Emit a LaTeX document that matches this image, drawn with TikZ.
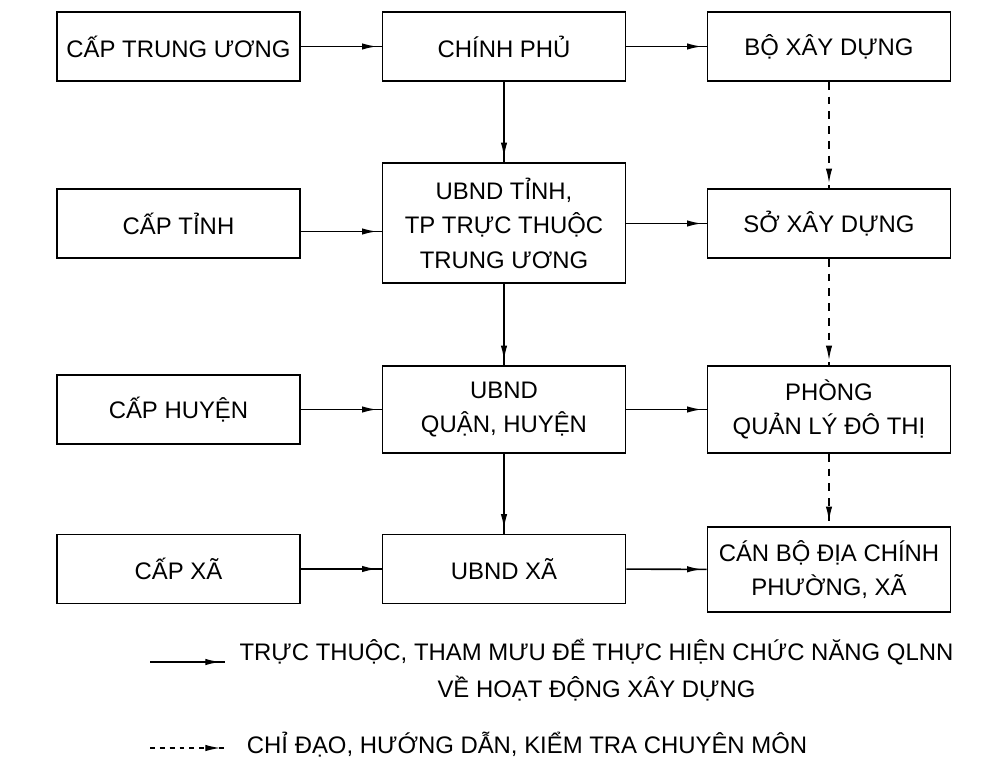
\documentclass[tikz,border=0pt]{standalone}
\usepackage{fontspec}
\setmainfont{Liberation Sans}
\usetikzlibrary{positioning, arrows.meta, decorations.markings}

\tikzset{
	unit/.style={draw, line width=1.1pt, rectangle, minimum width=6.075cm, minimum height=1.725cm, align=center, inner sep=2pt, font=\fontsize{17}{24.5}\selectfont},
	link/.style={line width=1.1pt, postaction={decorate}, decoration={markings, mark=at position -3.5pt with {\arrow{Latex[length=10.5pt, width=4.6pt]}}}},
	guide/.style={link, dash pattern=on 5.5pt off 5pt},
}

\begin{document}
\begin{tikzpicture}[x=0.025cm, y=-0.025cm]
	\useasboundingbox (0,0) rectangle (993,766);
	\node (cTW) [unit] at (178.5,46.5) {CẤP TRUNG ƯƠNG};
	\node (chinhPhu) [unit] at (504,46.5) {CHÍNH PHỦ};
	\node (boXD) [unit] at (829,46.5) {BỘ XÂY DỰNG};
	\node (cTinh) [unit] at (178.5,223.5) {CẤP TỈNH};
	\node (ubndTinh) [unit, minimum height=3cm] at (504,223) {UBND TỈNH,\\TP TRỰC THUỘC\\TRUNG ƯƠNG};
	\node (soXD) [unit] at (829,223.5) {SỞ XÂY DỰNG};
	\node (cHuyen) [unit] at (178.5,409.5) {CẤP HUYỆN};
	\node (ubndHuyen) [unit, minimum height=2.175cm] at (504,409.5) {UBND\\QUẬN, HUYỆN};
	\node (phong) [unit, minimum height=2.175cm] at (829,409.5) {PHÒNG\\QUẢN LÝ ĐÔ THỊ};
	\node (cXa) [unit] at (178.5,569) {CẤP XÃ};
	\node (ubndXa) [unit] at (504,569) {UBND XÃ};
	\node (canBo) [unit, minimum height=2.125cm] at (829,569.5) {CÁN BỘ ĐỊA CHÍNH\\PHƯỜNG, XÃ};

	\draw[link] (cTW) -- (chinhPhu);
	\draw[link] (chinhPhu) -- (boXD);
	\draw[link] ([yshift=-0.2cm]cTinh.east) -- ([yshift=-0.2cm]cTinh.east -| ubndTinh.west);
	\draw[link] (ubndTinh.east |- soXD.west) -- (soXD.west);
	\draw[link] (cHuyen) -- (ubndHuyen);
	\draw[link] (ubndHuyen) -- (phong);
	\draw[link] (cXa) -- (ubndXa);
	\draw[link] (ubndXa) -- (canBo);
	\draw[link] (chinhPhu) -- (ubndTinh);
	\draw[link] (ubndTinh) -- (ubndHuyen);
	\draw[link] (ubndHuyen) -- (ubndXa);
	\draw[guide] (boXD) -- (soXD);
	\draw[guide] (soXD) -- (phong);
	\draw[guide] (phong) -- (canBo);

	\coordinate (solidA) at (150,662);
	\coordinate (solidB) at (225,662);
	\coordinate (dashA) at (150,748);
	\coordinate (dashB) at (225,748);
	\draw[link, line width=0.9pt] (solidA) -- (solidB);
	\draw[link, line width=0.9pt, dash pattern=on 3.5pt off 3.5pt] (dashA) -- (dashB);
	\node (keySolid) [align=center, font=\fontsize{17}{26}\selectfont] at (596.5,670) {TRỰC THUỘC, THAM MƯU ĐỂ THỰC HIỆN CHỨC NĂNG QLNN\\VỀ HOẠT ĐỘNG XÂY DỰNG};
	\node (keyDash) [anchor=west, font=\fontsize{17}{24}\selectfont] at (242,745) {CHỈ ĐẠO, HƯỚNG DẪN, KIỂM TRA CHUYÊN MÔN};
\end{tikzpicture}
\end{document}
